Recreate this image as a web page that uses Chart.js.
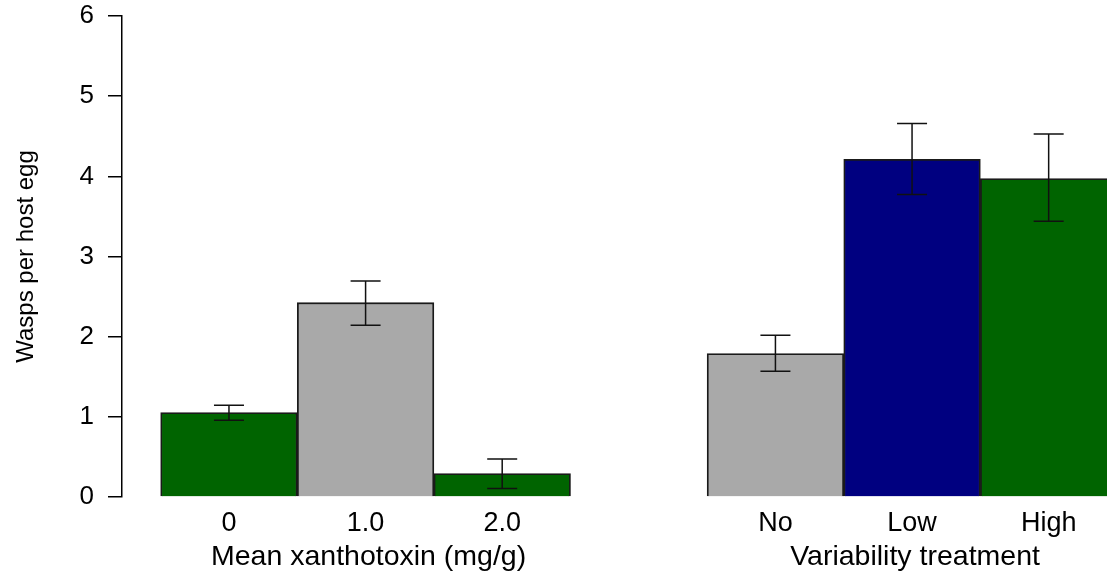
<!DOCTYPE html>
<html>
<head>
<meta charset="utf-8">
<script src="https://cdn.jsdelivr.net/npm/chart.js@4.4.1/dist/chart.umd.min.js"></script>
<style>
  html, body { margin: 0; padding: 0; background: #ffffff; overflow: hidden; }
  #wrap { width: 1107px; height: 574px; }
  canvas { display: block; }
</style>
</head>
<body>
<div id="wrap"><canvas id="c" width="1107" height="574"></canvas></div>
<script>
// ---- data ----
const categories = ["0", "1.0", "2.0", "No", "Low", "High"];
const slots = [0, 1, 2, 4, 5, 6];            // slot index of each bar (slot 3 is the gap)
const values = [1.053, 2.424, 0.292, 1.789, 4.212, 3.972];
const errLow = [0.957, 2.142, 0.105, 1.568, 3.773, 3.439];
const errHigh = [1.144, 2.694, 0.474, 2.017, 4.658, 4.528];
const yTicks = [0, 1, 2, 3, 4, 5, 6];
const groupTitles = ["Mean xanthotoxin (mg/g)", "Variability treatment"];
const groupCenters = [1, 5];                  // slot at which each group title is centred
const yTitle = "Wasps per host egg";

// ---- styles ----
const barColors = ["#006400", "#A9A9A9", "#006400", "#A9A9A9", "#000080", "#006400"];
const FONT = "'Liberation Sans', Arial, Helvetica, sans-serif";

const errorBarPlugin = {
  id: 'errorBars',
  afterDatasetsDraw(chart) {
    const ctx = chart.ctx;
    const xs = chart.scales.x, ys = chart.scales.y;
    ctx.save();
    ctx.strokeStyle = '#111111';
    ctx.lineWidth = 1.5;
    const half = 15;
    slots.forEach((s, i) => {
      const x = xs.getPixelForValue(s);
      const yh = ys.getPixelForValue(errHigh[i]);
      const yl = ys.getPixelForValue(errLow[i]);
      ctx.beginPath();
      ctx.moveTo(x, yh); ctx.lineTo(x, yl);
      ctx.moveTo(x - half, yh); ctx.lineTo(x + half, yh);
      ctx.moveTo(x - half, yl); ctx.lineTo(x + half, yl);
      ctx.stroke();
    });
    ctx.restore();
  }
};

const groupTitlePlugin = {
  id: 'groupTitles',
  afterDraw(chart) {
    const ctx = chart.ctx;
    const xs = chart.scales.x;
    ctx.save();
    ctx.fillStyle = '#000000';
    ctx.font = "28.5px " + FONT;
    ctx.textAlign = 'center';
    ctx.textBaseline = 'alphabetic';
    groupTitles.forEach((t, i) => {
      ctx.fillText(t, xs.getPixelForValue(groupCenters[i]) + 3, chart.chartArea.bottom + 68);
    });
    ctx.restore();
  }
};

new Chart(document.getElementById('c'), {
  type: 'bar',
  data: {
    datasets: [{
      data: slots.map((s, i) => ({ x: s, y: values[i] })),
      backgroundColor: barColors,
      borderColor: '#1a1a1a',
      borderWidth: 1.8,
      barPercentage: 1,
      categoryPercentage: 1
    }]
  },
  options: {
    responsive: false,
    animation: false,
    layout: { padding: { top: 16, right: 0, bottom: 0, left: 0 } },
    plugins: { legend: { display: false }, tooltip: { enabled: false } },
    scales: {
      x: {
        type: 'linear',
        offset: false,
        min: -0.783,
        max: 6.427,
        grid: { display: false, drawTicks: false, offset: false },
        border: { display: false },
        afterBuildTicks(scale) { scale.ticks = slots.map(v => ({ value: v })); },
        afterFit(scale) { scale.height = 77; scale.paddingLeft = 0; scale.paddingRight = 0; },
        ticks: {
          autoSkip: false,
          maxRotation: 0,
          padding: 10,
          color: '#000000',
          font: { size: 27, family: FONT },
          callback: (v, i) => categories[i]
        }
      },
      y: {
        min: 0,
        max: 6,
        afterBuildTicks(scale) { scale.ticks = yTicks.map(v => ({ value: v })); },
        afterFit(scale) { scale.width = 122; scale.paddingTop = 0; scale.paddingBottom = 0; },
        grid: { drawOnChartArea: false, drawTicks: true, tickLength: 14, color: '#000000', lineWidth: 1.5 },
        border: { display: true, color: '#000000', width: 1.5 },
        ticks: {
          padding: 14,
          color: '#000000',
          font: { size: 26, family: FONT },
          callback: v => String(v)
        },
        title: {
          display: true,
          text: yTitle,
          color: '#000000',
          font: { size: 24, family: FONT },
          padding: { top: 12, bottom: 0 }
        }
      }
    }
  },
  plugins: [errorBarPlugin, groupTitlePlugin]
});
</script>
</body>
</html>
